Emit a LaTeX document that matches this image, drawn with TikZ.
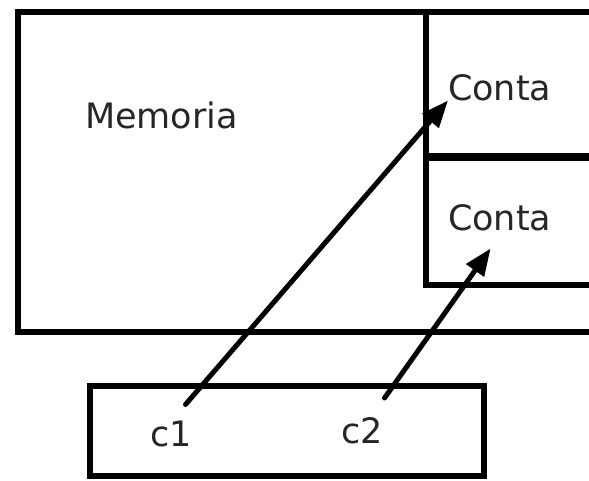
\documentclass[tikz,border=0pt]{standalone}
\usepackage{fontspec}
\setmainfont{DejaVu Sans}
\usetikzlibrary{arrows.meta}
\begin{document}
\begin{tikzpicture}[x=1pt,y=-1pt,
  box/.style={draw=black,line width=6pt,fill=none,inner sep=0pt,outer sep=0pt},
  lbl/.style={inner sep=0pt,outer sep=0pt,text=black!85,anchor=base west,
    font=\fontsize{35}{40}\selectfont},
  ref/.style={line width=5pt,line cap=round,-{Triangle[length=27pt,width=21pt]}}]
  \clip (0,0) rectangle (589,480);
  \useasboundingbox (0,0) rectangle (589,480);
  % memory area and the two objects inside it
  \node[box,anchor=north west,minimum width=620pt,minimum height=320pt] (mem) at (18,12) {};
  \node[box,anchor=north west,minimum width=200pt,minimum height=145pt] (obj1) at (426,12) {};
  \node[box,anchor=north west,minimum width=200pt,minimum height=128pt,line width=6pt] (obj2) at (426,157) {};
  \draw[line width=8pt] (obj1.south west) -- (obj1.south east);
  % stack frame holding the references
  \node[box,anchor=north west,minimum width=394pt,minimum height=90pt] (frame) at (90,386) {};
  % labels
  \node[lbl] (memlbl) at (85,128) {Memoria};
  \node[lbl] (conta1) at (448,100) {Conta};
  \node[lbl] (conta2) at (448,230) {Conta};
  \node[lbl] (c1) at (150,446) {c1};
  \node[lbl] (c2) at (341,443) {c2};
  % references
  \coordinate (s1) at ([shift={(-6,-16)}]c1.north east);
  \coordinate (s2) at ([shift={(2,-19)}]c2.north east);
  \coordinate (t2) at ([shift={(-9,18)}]conta2.south);
  \draw[ref] (s1) -- (conta1.south west);
  \draw[ref] (s2) -- (t2);
\end{tikzpicture}
\end{document}
